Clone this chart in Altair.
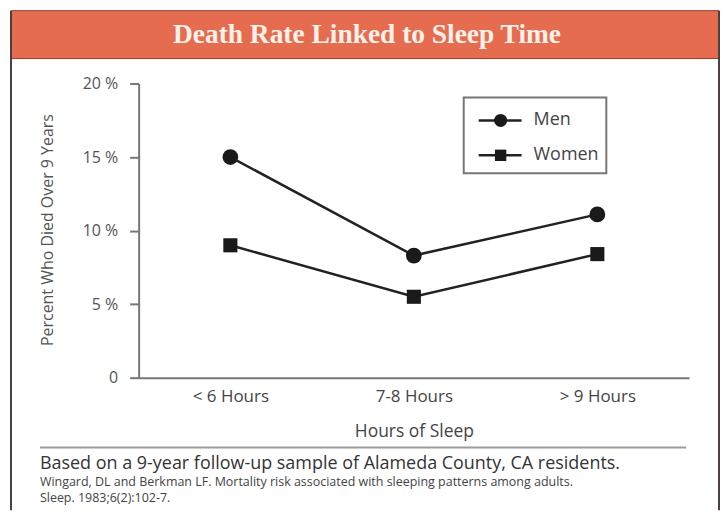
import altair as alt
import pandas as pd

# ---- data ----
categories = ["< 6 Hours", "7-8 Hours", "> 9 Hours"]
series_names = ["Men", "Women"]
men_values = [15.0, 8.3, 11.1]
women_values = [9.0, 5.5, 8.4]
y_ticks = [0, 5, 10, 15, 20]

title_text = "Death Rate Linked to Sleep Time"
y_title = "Percent Who Died Over 9 Years"
x_title = "Hours of Sleep"
note_main = "Based on a 9-year follow-up sample of Alameda County, CA residents."
note_ref1 = "Wingard, DL and Berkman LF.  Mortality risk associated with sleeping patterns among adults."
note_ref2 = "Sleep. 1983;6(2):102-7."

FONT = "Open Sans"
W, H = 552, 295

rows = []
for name, vals in zip(series_names, [men_values, women_values]):
    for c, v in zip(categories, vals):
        rows.append({"series": name, "hours": c, "pct": v})
df = pd.DataFrame(rows)

x_enc = alt.X(
    "hours:N",
    sort=categories,
    scale=alt.Scale(type="point", padding=0.5),
    axis=alt.Axis(
        title=x_title, titleFont=FONT, titleFontSize=17.5, titleFontWeight="normal",
        titleColor="#444", titlePadding=18,
        labelFont=FONT, labelFontSize=17, labelColor="#444", labelPadding=11,
        labelAngle=0, ticks=False, domainColor="#777", domainWidth=2,
    ),
)
y_enc = alt.Y(
    "pct:Q",
    scale=alt.Scale(domain=[0, 20], nice=False),
    axis=alt.Axis(
        title=None, values=y_ticks, grid=False,
        labelExpr="datum.value == 0 ? '0' : datum.value + ' %'",
        labelFont=FONT, labelFontSize=16, labelColor="#555", labelPadding=12,
        tickSize=9, tickColor="#777", tickWidth=2, domainColor="#777", domainWidth=2,
    ),
)
shape_scale = alt.Scale(domain=series_names, range=["circle", "square"])

lines = alt.Chart(df).mark_line(color="#222", strokeWidth=2.5).encode(
    x=x_enc, y=y_enc, detail="series:N"
)
points = alt.Chart(df).mark_point(filled=True, color="#1a1a1a", opacity=1).encode(
    x=x_enc, y=y_enc,
    shape=alt.Shape("series:N", scale=shape_scale, legend=None),
    size=alt.Size("series:N", scale=alt.Scale(domain=series_names, range=[250, 200]), legend=None),
)

one = pd.DataFrame({"k": [0]})

header = alt.Chart(one).mark_rect(color="#e66c50", stroke="#9a3a28", strokeWidth=1).encode(
    x=alt.value(-128), x2=alt.value(582), y=alt.value(-73), y2=alt.value(-25)
)
title = alt.Chart(pd.DataFrame({"t": [title_text]})).mark_text(
    font="Liberation Serif", fontSize=27.5, fontWeight="bold", color="#fdf1ea",
    align="center", baseline="middle",
).encode(text="t:N", x=alt.value(229), y=alt.value(-49))

border_l = alt.Chart(one).mark_rule(color="#4a4040", strokeWidth=2).encode(
    x=alt.value(-128), y=alt.value(-73), y2=alt.value(428)
)
border_r = alt.Chart(one).mark_rule(color="#4a4040", strokeWidth=2).encode(
    x=alt.value(582), y=alt.value(-73), y2=alt.value(428)
)

ytitle = alt.Chart(pd.DataFrame({"t": [y_title]})).mark_text(
    font=FONT, fontSize=16, color="#555", angle=270, align="center", baseline="middle"
).encode(text="t:N", x=alt.value(-91), y=alt.value(147))

# legend
legend_box = alt.Chart(one).mark_rect(fill="white", stroke="#777", strokeWidth=2).encode(
    x=alt.value(326), x2=alt.value(469), y=alt.value(14), y2=alt.value(90)
)
legend_layers = []
for i, name in enumerate(series_names):
    ly = 37 + 35 * i
    ldf = pd.DataFrame({"series": [name]})
    legend_layers.append(
        alt.Chart(ldf).mark_rule(color="#222", strokeWidth=2.5).encode(
            x=alt.value(341), x2=alt.value(384), y=alt.value(ly)
        )
    )
    legend_layers.append(
        alt.Chart(ldf).mark_point(filled=True, color="#1a1a1a", opacity=1).encode(
            x=alt.value(363), y=alt.value(ly),
            shape=alt.Shape("series:N", scale=shape_scale, legend=None),
            size=alt.value(170 if i == 0 else 130),
        )
    )
    legend_layers.append(
        alt.Chart(ldf).mark_text(font=FONT, fontSize=18, color="#444", align="left", baseline="middle").encode(
            text="series:N", x=alt.value(396), y=alt.value(ly)
        )
    )

separator = alt.Chart(one).mark_rule(color="#9a9a9a", strokeWidth=2).encode(
    x=alt.value(-99), x2=alt.value(549), y=alt.value(365)
)
note1 = alt.Chart(pd.DataFrame({"t": [note_main]})).mark_text(
    font=FONT, fontSize=18, color="#333", align="left", baseline="middle"
).encode(text="t:N", x=alt.value(-99), y=alt.value(381.5))
note2 = alt.Chart(pd.DataFrame({"t": [note_ref1]})).mark_text(
    font=FONT, fontSize=12.5, color="#444", align="left", baseline="middle"
).encode(text="t:N", x=alt.value(-99), y=alt.value(400))
note3 = alt.Chart(pd.DataFrame({"t": [note_ref2]})).mark_text(
    font=FONT, fontSize=12.5, color="#444", align="left", baseline="middle"
).encode(text="t:N", x=alt.value(-99), y=alt.value(415.5))

chart = alt.layer(
    header, title, border_l, border_r, ytitle,
    lines, points,
    legend_box, *legend_layers,
    separator, note1, note2, note3,
).properties(
    width=W, height=H,
    autosize=alt.AutoSizeParams(type="none"),
    padding={"left": 131, "top": 75, "right": 31, "bottom": 133},
    background="white",
).configure_view(stroke=None)

chart.save("out.html", embed_options={"renderer": "svg", "actions": False})
